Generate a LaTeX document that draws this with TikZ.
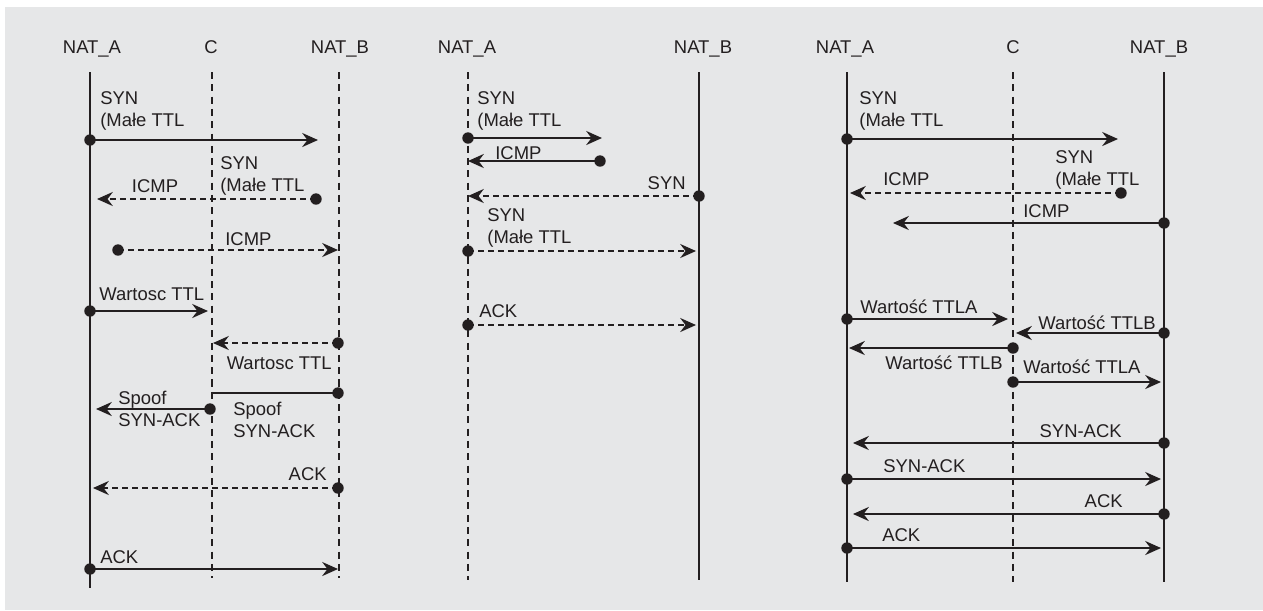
\documentclass[tikz,border=0pt]{standalone}
\usepackage{fontspec}
\setmainfont{Liberation Sans}
\usetikzlibrary{arrows.meta}
\definecolor{ink}{HTML}{231F20}
\definecolor{panel}{HTML}{E6E7E8}

\begin{document}
\begin{tikzpicture}[x=0.02cm, y=-0.02cm,
    head/.style={inner sep=0pt, anchor=base, text=ink,
                 font=\fontsize{10.5}{12.5}\selectfont},
    lbl/.style={inner sep=0pt, align=left, text=ink,
                font=\fontsize{10.5}{12.5}\selectfont},
    life/.style={draw=ink, line width=0.8pt},
    lifedash/.style={life, dash pattern=on 4pt off 3pt},
    msg/.style={draw=ink, line width=1.2pt,
                -{Stealth[length=9pt, width=8pt, inset=3pt]}},
    msgdash/.style={msg, line width=1pt, dash pattern=on 3.4pt off 2.3pt},
    dot/.style={circle, fill=ink, inner sep=0pt, minimum size=6.5pt}
]
    \useasboundingbox (0,0) rectangle (1263,610);
    \fill[panel] (5,7) rectangle (1263,610);

    % left panel: NAT_A, C, NAT_B
    \node[head] (h1a) at (92,53) {NAT\_A};
    \node[head] (h1c) at (211,53) {C};
    \node[head] (h1b) at (340,53) {NAT\_B};
    \coordinate (a1t) at (90,72);  \coordinate (a1b) at (90,588);
    \coordinate (c1t) at (212,72); \coordinate (c1b) at (212,578);
    \coordinate (b1t) at (339,72); \coordinate (b1b) at (339,578);
    \draw[life] (a1t) -- (a1b);
    \draw[lifedash] (c1t) -- (c1b);
    \draw[lifedash] (b1t) -- (b1b);

    \node[dot] (p1d1) at (90,140) {};  \coordinate (p1e1) at (318,140);
    \draw[msg] (p1d1.center) -- (p1e1);
    \node[lbl, anchor=base west] (p1t1) at (100,126) {SYN\\(Małe TTL};

    \node[dot] (p1d2) at (316,199) {}; \coordinate (p1e2) at (97,199);
    \draw[msgdash] (p1d2.center) -- (p1e2);
    \node[lbl, anchor=base] (p1t2) at (155,192) {ICMP};
    \node[lbl, anchor=base west] (p1t2b) at (220,191) {SYN\\(Małe TTL};

    \node[dot] (p1d3) at (118,250) {}; \coordinate (p1e3) at (338,250);
    \draw[msgdash] (p1d3.center) -- (p1e3);
    \node[lbl, anchor=base west] (p1t3) at (225,245) {ICMP};

    \node[dot] (p1d4) at (90,311) {};  \coordinate (p1e4) at (208,311);
    \draw[msg] (p1d4.center) -- (p1e4);
    \node[lbl, anchor=base west] (p1t4) at (99,300) {Wartosc TTL};

    \node[dot] (p1d5) at (338,343) {}; \coordinate (p1e5) at (213,343);
    \draw[msgdash] (p1d5.center) -- (p1e5);
    \node[lbl, anchor=base east] (p1t5) at (332,369) {Wartosc TTL};

    \node[dot] (p1d6) at (338,393) {}; \coordinate (p1e6) at (212,393);
    \draw[msg, -] (p1d6.center) -- (p1e6);
    \node[lbl, anchor=base west] (p1t6) at (233,437) {Spoof\\SYN-ACK};

    \node[dot] (p1d7) at (210,409) {}; \coordinate (p1e7) at (96,409);
    \draw[msg] (p1d7.center) -- (p1e7);
    \node[lbl, anchor=base west] (p1t7) at (118,426) {Spoof\\SYN-ACK};

    \node[dot] (p1d8) at (338,488) {}; \coordinate (p1e8) at (93,488);
    \draw[msgdash] (p1d8.center) -- (p1e8);
    \node[lbl, anchor=base east] (p1t8) at (327,480) {ACK};

    \node[dot] (p1d9) at (90,569) {};  \coordinate (p1e9) at (338,569);
    \draw[msg] (p1d9.center) -- (p1e9);
    \node[lbl, anchor=base west] (p1t9) at (100,563) {ACK};

    % middle panel: NAT_A, NAT_B
    \node[head] (h2a) at (467,53) {NAT\_A};
    \node[head] (h2b) at (703,53) {NAT\_B};
    \coordinate (a2t) at (468,72); \coordinate (a2b) at (468,580);
    \coordinate (b2t) at (699,72); \coordinate (b2b) at (699,580);
    \draw[lifedash] (a2t) -- (a2b);
    \draw[life] (b2t) -- (b2b);

    \node[dot] (p2d1) at (468,138) {}; \coordinate (p2e1) at (602,138);
    \draw[msg] (p2d1.center) -- (p2e1);
    \node[lbl, anchor=base west] (p2t1) at (477,126) {SYN\\(Małe TTL};

    \node[dot] (p2d2) at (600,161) {}; \coordinate (p2e2) at (468,161);
    \draw[msg] (p2d2.center) -- (p2e2);
    \node[lbl, anchor=base west] (p2t2) at (495,159) {ICMP};

    \node[dot] (p2d3) at (699,196) {}; \coordinate (p2e3) at (468,196);
    \draw[msgdash] (p2d3.center) -- (p2e3);
    \node[lbl, anchor=base east] (p2t3) at (686,189) {SYN};

    \node[dot] (p2d4) at (468,251) {}; \coordinate (p2e4) at (696,251);
    \draw[msgdash] (p2d4.center) -- (p2e4);
    \node[lbl, anchor=base west] (p2t4) at (487,243) {SYN\\(Małe TTL};

    \node[dot] (p2d5) at (468,325) {}; \coordinate (p2e5) at (696,325);
    \draw[msgdash] (p2d5.center) -- (p2e5);
    \node[lbl, anchor=base west] (p2t5) at (479,317) {ACK};

    % right panel: NAT_A, C, NAT_B
    \node[head] (h3a) at (845,53) {NAT\_A};
    \node[head] (h3c) at (1013,53) {C};
    \node[head] (h3b) at (1159,53) {NAT\_B};
    \coordinate (a3t) at (847,72);  \coordinate (a3b) at (847,582);
    \coordinate (c3t) at (1013,72); \coordinate (c3b) at (1013,582);
    \coordinate (b3t) at (1164,72); \coordinate (b3b) at (1164,582);
    \draw[life] (a3t) -- (a3b);
    \draw[lifedash] (c3t) -- (c3b);
    \draw[life] (b3t) -- (b3b);

    \node[dot] (p3d1) at (847,139) {};  \coordinate (p3e1) at (1118,139);
    \draw[msg] (p3d1.center) -- (p3e1);
    \node[lbl, anchor=base west] (p3t1) at (859,126) {SYN\\(Małe TTL};

    \node[dot] (p3d2) at (1121,193) {}; \coordinate (p3e2) at (850,193);
    \draw[msgdash] (p3d2.center) -- (p3e2);
    \node[lbl, anchor=base west] (p3t2) at (883,185) {ICMP};
    \node[lbl, anchor=base west] (p3t2b) at (1055,185) {SYN\\(Małe TTL};

    \node[dot] (p3d3) at (1164,223) {}; \coordinate (p3e3) at (893,223);
    \draw[msg] (p3d3.center) -- (p3e3);
    \node[lbl, anchor=base west] (p3t3) at (1023,217) {ICMP};

    \node[dot] (p3d4) at (847,319) {};  \coordinate (p3e4) at (1008,319);
    \draw[msg] (p3d4.center) -- (p3e4);
    \node[lbl, anchor=base west] (p3t4) at (860,313) {Wartość TTLA};

    \node[dot] (p3d5) at (1164,333) {}; \coordinate (p3e5) at (1016,333);
    \draw[msg] (p3d5.center) -- (p3e5);
    \node[lbl, anchor=base east] (p3t5) at (1156,329) {Wartość TTLB};

    \node[dot] (p3d6) at (1013,348) {}; \coordinate (p3e6) at (849,348);
    \draw[msg] (p3d6.center) -- (p3e6);
    \node[lbl, anchor=base east] (p3t6) at (1003,369) {Wartość TTLB};

    \node[dot] (p3d7) at (1013,382) {}; \coordinate (p3e7) at (1161,382);
    \draw[msg] (p3d7.center) -- (p3e7);
    \node[lbl, anchor=base west] (p3t7) at (1023,373) {Wartość TTLA};

    \node[dot] (p3d8) at (1164,443) {}; \coordinate (p3e8) at (853,443);
    \draw[msg] (p3d8.center) -- (p3e8);
    \node[lbl, anchor=base east] (p3t8) at (1122,437) {SYN-ACK};

    \node[dot] (p3d9) at (847,479) {};  \coordinate (p3e9) at (1161,479);
    \draw[msg] (p3d9.center) -- (p3e9);
    \node[lbl, anchor=base west] (p3t9) at (883,472) {SYN-ACK};

    \node[dot] (p3d10) at (1164,514) {}; \coordinate (p3e10) at (853,514);
    \draw[msg] (p3d10.center) -- (p3e10);
    \node[lbl, anchor=base east] (p3t10) at (1123,507) {ACK};

    \node[dot] (p3d11) at (847,548) {};  \coordinate (p3e11) at (1161,548);
    \draw[msg] (p3d11.center) -- (p3e11);
    \node[lbl, anchor=base west] (p3t11) at (882,541) {ACK};
\end{tikzpicture}
\end{document}
